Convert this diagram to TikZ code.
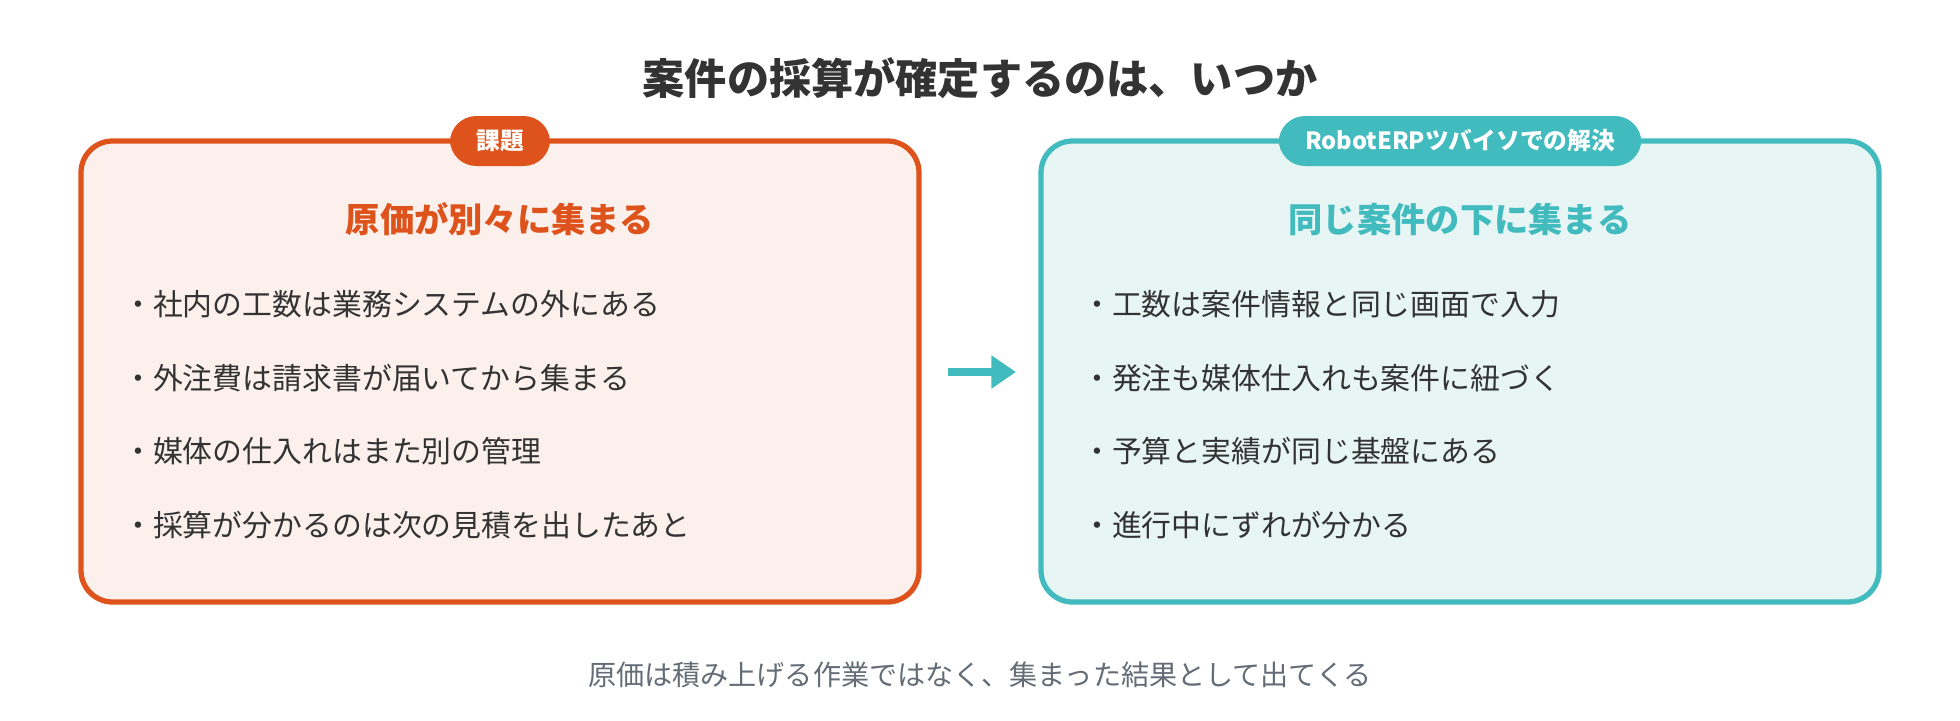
\documentclass[tikz,border=0pt]{standalone}
\usepackage{fontspec}
\setmainfont{Noto Sans CJK JP}
\usetikzlibrary{arrows.meta}
\definecolor{kadai}{RGB}{222,83,28}
\definecolor{kadaibg}{RGB}{251,240,236}
\definecolor{kaiketsu}{RGB}{66,187,190}
\definecolor{kaiketsubg}{RGB}{232,245,245}
\definecolor{moji}{RGB}{51,51,51}
\definecolor{usumoji}{RGB}{100,108,118}

\begin{document}
\begin{tikzpicture}[x=0.02cm, y=-0.02cm,
    box/.style={line width=3pt, rounded corners=18pt},
    badge/.style={rounded corners=15pt, text=white, font=\fontsize{13.5}{16}\selectfont\bfseries, minimum height=50*0.02cm, inner xsep=15pt},
    heading/.style={font=\fontsize{19.5}{23}\selectfont\bfseries},
    bullet/.style={anchor=west, text=moji, font=\fontsize{17}{20}\selectfont}]

    \useasboundingbox (0,0) rectangle (1960,720);

    \node[text=moji, font=\fontsize{24}{28}\selectfont\bfseries] (title) at (980,78) {案件の採算が確定するのは、いつか};

    % left box
    \draw[box, draw=kadai, fill=kadaibg] (81,141) rectangle (919,602);
    \node[badge, fill=kadai] (badgeL) at (500,141) {課題};
    \node[heading, text=kadai] (headL) at (500,219) {原価が別々に集まる};
    \node[bullet] (l1) at (117,304) {・社内の工数は業務システムの外にある};
    \node[bullet] (l2) at (117,378) {・外注費は請求書が届いてから集まる};
    \node[bullet] (l3) at (117,451) {・媒体の仕入れはまた別の管理};
    \node[bullet] (l4) at (117,525) {・採算が分かるのは次の見積を出したあと};

    % right box
    \draw[box, draw=kaiketsu, fill=kaiketsubg] (1041,141) rectangle (1879,602);
    \node[badge, fill=kaiketsu] (badgeR) at (1460,141) {RobotERPツバイソでの解決};
    \node[heading, text=kaiketsu] (headR) at (1460,219) {同じ案件の下に集まる};
    \node[bullet] (r1) at (1076,304) {・工数は案件情報と同じ画面で入力};
    \node[bullet] (r2) at (1076,378) {・発注も媒体仕入れも案件に紐づく};
    \node[bullet] (r3) at (1076,451) {・予算と実績が同じ基盤にある};
    \node[bullet] (r4) at (1076,525) {・進行中にずれが分かる};

    \coordinate (from) at (948,372);
    \coordinate (to) at (1016,372);
    \draw[kaiketsu, line width=5pt, -{Triangle[length=14pt, width=18pt]}] (from) -- (to);

    \node[text=usumoji, font=\fontsize{16}{19}\selectfont] (foot) at (980,675) {原価は積み上げる作業ではなく、集まった結果として出てくる};

\end{tikzpicture}
\end{document}
